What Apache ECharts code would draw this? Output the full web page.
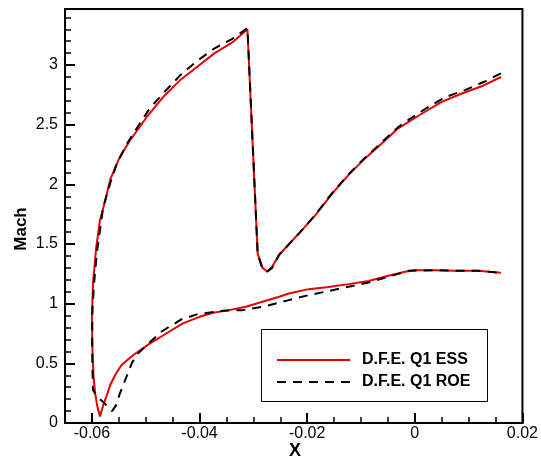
<!DOCTYPE html>
<html>
<head>
<meta charset="utf-8">
<script src="https://cdn.jsdelivr.net/npm/echarts@6/dist/echarts.min.js"></script>
<style>
html,body{margin:0;padding:0;background:#fff;}
#c{width:541px;height:460px;}
</style>
</head>
<body>
<div id="c"></div>
<script>
// Upper surface (from stagnation point to trailing edge)
const essUpperX = [-0.0585, -0.0590, -0.0594, -0.0597, -0.0599, -0.0600, -0.0598, -0.0592, -0.0585, -0.0575, -0.0566, -0.0548, -0.0529, -0.0498, -0.0468, -0.0437, -0.0406, -0.0372, -0.0339, -0.0311, -0.0292, -0.0283, -0.0274, -0.0265, -0.0252, -0.0215, -0.0185, -0.0154, -0.0123, -0.0092, -0.0062, -0.0031, 0.0012, 0.0049, 0.0086, 0.0123, 0.0160];
const essUpperM = [0.055, 0.14, 0.25, 0.39, 0.61, 0.89, 1.17, 1.47, 1.70, 1.87, 2.04, 2.23, 2.37, 2.565, 2.73, 2.87, 2.98, 3.10, 3.19, 3.30, 1.42, 1.30, 1.27, 1.31, 1.41, 1.59, 1.74, 1.92, 2.08, 2.22, 2.34, 2.47, 2.59, 2.69, 2.76, 2.82, 2.90];
// Lower surface (from stagnation point to trailing edge)
const essLowerX = [-0.0585, -0.0579, -0.0572, -0.0566, -0.0557, -0.0545, -0.0523, -0.0492, -0.0462, -0.0431, -0.0400, -0.0375, -0.0345, -0.0314, -0.0283, -0.0252, -0.0234, -0.0197, -0.0160, -0.0123, -0.0086, -0.0049, -0.0018, 0.0000, 0.0037, 0.0074, 0.0117, 0.0160];
const essLowerM = [0.055, 0.15, 0.235, 0.318, 0.40, 0.486, 0.57, 0.667, 0.75, 0.835, 0.89, 0.924, 0.946, 0.974, 1.016, 1.058, 1.086, 1.122, 1.14, 1.164, 1.19, 1.234, 1.267, 1.281, 1.281, 1.276, 1.276, 1.259];

const roeUpperX = [-0.05625, -0.0570, -0.0579, -0.0590, -0.0598, -0.0599, -0.05995, -0.0599, -0.0596, -0.0591, -0.0579, -0.0566, -0.0554, -0.0535, -0.0511, -0.0492, -0.0462, -0.0437, -0.0406, -0.0372, -0.0339, -0.0311, -0.0292, -0.0283, -0.0274, -0.0265, -0.0252, -0.0215, -0.0185, -0.0154, -0.0123, -0.0092, -0.0062, -0.0031, -0.0012, 0.0022, 0.0056, 0.0093, 0.0129, 0.0160];
const roeUpperM = [0.10, 0.134, 0.176, 0.218, 0.276, 0.44, 0.70, 0.95, 1.17, 1.42, 1.81, 2.01, 2.17, 2.34, 2.51, 2.64, 2.79, 2.91, 3.03, 3.14, 3.22, 3.31, 1.42, 1.29, 1.27, 1.30, 1.41, 1.59, 1.745, 1.925, 2.085, 2.225, 2.35, 2.48, 2.54, 2.64, 2.73, 2.79, 2.86, 2.93];
const roeLowerX = [-0.05625, -0.0555, -0.0549, -0.0537, -0.0526, -0.0517, -0.0498, -0.0471, -0.0434, -0.0403, -0.0357, -0.0320, -0.0277, -0.0234, -0.0197, -0.0160, -0.0123, -0.0086, -0.0049, -0.0012, 0.0037, 0.0074, 0.0117, 0.0160];
const roeLowerM = [0.10, 0.15, 0.235, 0.374, 0.50, 0.57, 0.653, 0.765, 0.868, 0.913, 0.94, 0.946, 0.98, 1.03, 1.072, 1.106, 1.142, 1.178, 1.225, 1.276, 1.281, 1.276, 1.276, 1.259];

const seriesNames = ['D.F.E. Q1 ESS', 'D.F.E. Q1 ROE'];
const xMajorTicks = [-0.06, -0.04, -0.02, 0, 0.02];
const yMajorTicks = [0, 0.5, 1, 1.5, 2, 2.5, 3];

function loop(ux, um, lx, lm) {
  const pts = [];
  for (let i = ux.length - 1; i >= 0; i--) pts.push([ux[i], um[i]]);
  for (let i = 1; i < lx.length; i++) pts.push([lx[i], lm[i]]);
  return pts;
}

const FONT = '"Liberation Sans", Arial, Helvetica, sans-serif';
const chart = echarts.init(document.getElementById('c'), null, {renderer: 'canvas'});

const option = {
  animation: false,
  backgroundColor: '#fff',
  grid: {left: 65, right: 16, top: 9, bottom: 37, show: true, borderColor: '#000', borderWidth: 2, backgroundColor: 'transparent'},
  xAxis: [
    {
      type: 'value', min: -0.065, max: 0.02, interval: 0.005, position: 'bottom',
      axisLine: {show: true, onZero: false, lineStyle: {color: '#000', width: 2}},
      axisTick: {show: true, inside: true, length: 6, lineStyle: {color: '#000', width: 1.5}},
      axisLabel: {
        margin: 3, color: '#000', fontFamily: FONT, fontSize: 16,
        formatter: function (v) {
          if (Math.abs(v * 50 - Math.round(v * 50)) < 1e-6) return String(Math.round(v * 100) / 100);
          return '';
        }
      },
      splitLine: {show: false}
    },
    {
      type: 'value', min: -0.065, max: 0.02, position: 'bottom',
      axisLine: {show: false, onZero: false},
      axisTick: {show: true, inside: true, length: 10, customValues: xMajorTicks, lineStyle: {color: '#000', width: 2}},
      axisLabel: {show: false},
      splitLine: {show: false}
    }
  ],
  yAxis: [
    {
      type: 'value', min: 0, max: 3.47, interval: 0.1, position: 'left',
      axisLine: {show: true, onZero: false, lineStyle: {color: '#000', width: 2}},
      axisTick: {show: true, inside: true, length: 6, lineStyle: {color: '#000', width: 1.5}},
      axisLabel: {
        margin: 7, color: '#000', fontFamily: FONT, fontSize: 16,
        formatter: function (v) {
          if (Math.abs(v * 2 - Math.round(v * 2)) < 1e-6 && v <= 3.01) return String(Math.round(v * 10) / 10);
          return '';
        }
      },
      splitLine: {show: false}
    },
    {
      type: 'value', min: 0, max: 3.47, position: 'left',
      axisLine: {show: false, onZero: false},
      axisTick: {show: true, inside: true, length: 10, customValues: yMajorTicks, lineStyle: {color: '#000', width: 2}},
      axisLabel: {show: false},
      splitLine: {show: false}
    }
  ],
  legend: {
    show: true, orient: 'vertical', left: 276, top: 352, padding: 0, itemGap: 6,
    itemWidth: 73, itemHeight: 14, z: 5,
    data: seriesNames,
    itemStyle: {opacity: 0},
    textStyle: {color: '#000', fontFamily: FONT, fontSize: 16, fontWeight: 'bold', lineHeight: 15, padding: [0, 0, 0, 7]}
  },
  graphic: [
    {type: 'rect', shape: {x: 261.5, y: 329.5, width: 226, height: 72}, style: {fill: '#fff', stroke: '#000', lineWidth: 1}, z: 3},
    {type: 'text', x: 21, y: 229, rotation: Math.PI / 2, style: {text: 'Mach', font: 'bold 17px ' + FONT, fill: '#000', textAlign: 'center', textVerticalAlign: 'middle'}, z: 3},
    {type: 'text', x: 295, y: 451, style: {text: 'X', font: 'bold 18px ' + FONT, fill: '#000', textAlign: 'center', textVerticalAlign: 'middle'}, z: 3}
  ],
  series: [
    {
      name: seriesNames[0], type: 'line', xAxisIndex: 0, yAxisIndex: 0,
      data: loop(essUpperX, essUpperM, essLowerX, essLowerM),
      showSymbol: false, symbol: 'none', smooth: false,
      lineStyle: {color: '#e60000', width: 2},
      itemStyle: {color: '#e60000'}, z: 2
    },
    {
      name: seriesNames[1], type: 'line', xAxisIndex: 0, yAxisIndex: 0,
      data: loop(roeUpperX, roeUpperM, roeLowerX, roeLowerM),
      showSymbol: false, symbol: 'none', smooth: false,
      lineStyle: {color: '#000', width: 2, type: [9, 7]},
      itemStyle: {color: '#000'}, z: 3
    }
  ]
};
chart.setOption(option);
</script>
</body>
</html>
